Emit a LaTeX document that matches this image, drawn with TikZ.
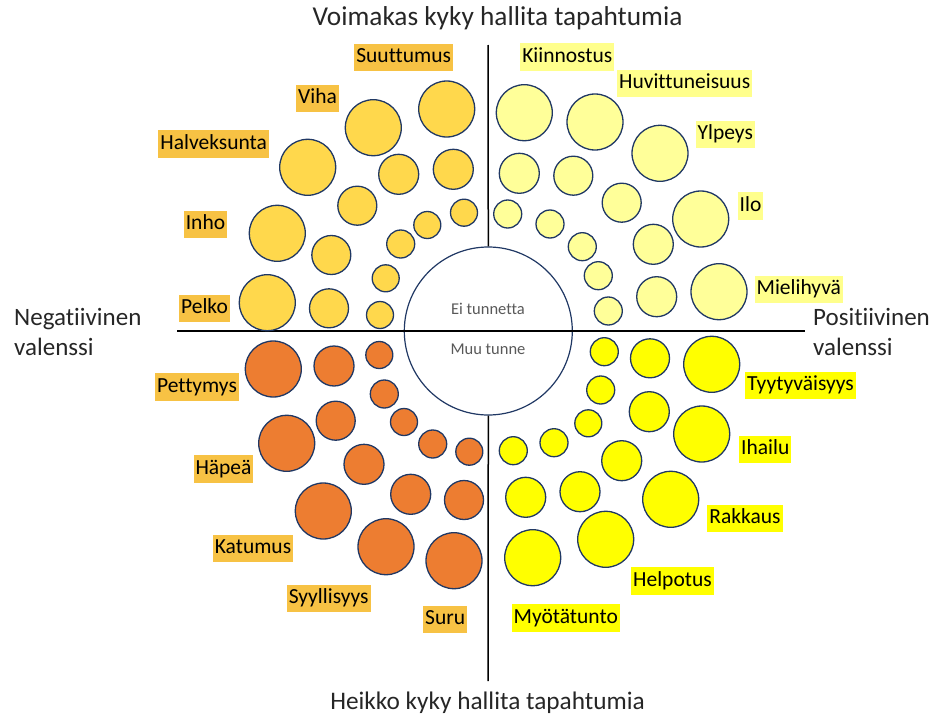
\documentclass[tikz,border=0pt]{standalone}
\usepackage{fontspec}
\setmainfont{Carlito}[Ligatures=NoCommon]
\usepackage{xcolor}

\definecolor{rim}{HTML}{203864}
\definecolor{tlfill}{HTML}{FFD84C}
\definecolor{trfill}{HTML}{FFFF99}
\definecolor{blfill}{HTML}{ED7D31}
\definecolor{brfill}{HTML}{FFFF00}
\definecolor{goldtag}{HTML}{F7C244}
\definecolor{paletag}{HTML}{FFFF8C}

\tikzset{
  emodot/.style={draw=rim,line width=1.3pt},
  emolabel/.style={inner xsep=2pt,inner ysep=3.5pt,text height=15.5pt,text depth=5pt,font=\fontsize{21.5}{25}\selectfont},
  axislabel/.style={font=\fontsize{25}{30}\selectfont,align=left,text=black!85},
}

\begin{document}
\begin{tikzpicture}[x=1pt,y=-1pt]
\useasboundingbox (0,0) rectangle (932,720);

% axes and the neutral hub
\coordinate (top) at (488,45);
\coordinate (bottom) at (488,681);
\coordinate (left) at (177,331);
\coordinate (right) at (805,331);
\node[circle,draw=rim,line width=1.2pt,fill=white,minimum size=168pt,inner sep=0pt] (hub) at (488.3,331) {};
\draw[line width=1.5pt] (top) -- (hub.north);
\draw[line width=1.5pt] (hub.south) -- (bottom);
\draw[line width=1.5pt] (left) -- (right);
\node[font=\fontsize{16.5}{20}\selectfont,text=black!65] (none) at (488,309) {Ei tunnetta};
\node[font=\fontsize{16.5}{20}\selectfont,text=black!65] (other) at (488,349) {Muu tunne};

% upper left
\foreach \x/\y/\r in {446.7/109/28,373.3/127.7/28,307.7/167.3/28,277.3/233.3/28,267.3/302.7/28,
  453.3/169.3/20,398.7/174.3/20,357.3/205.7/19.5,331.3/255/19.5,329/308.3/19.5,
  464/212.7/13.5,427.3/225/13.5,400.7/244/14,385.7/278.3/13.5,380/315/13.5}
  \draw[emodot,fill=tlfill] (\x,\y) circle (\r pt);
% upper right
\foreach \x/\y/\r in {524.3/112.7/28,595/122/28,660/153.3/28,700.7/219/28,719/291.7/28,
  519.3/173.3/20,573.3/175.7/19.5,621.7/202.7/19.5,653.3/244.3/20,656.7/296.7/20,
  507.7/214/14,550/224/14,582.3/246.7/14,598.3/275.7/14,608.3/311/14}
  \draw[emodot,fill=trfill] (\x,\y) circle (\r pt);
% lower left
\foreach \x/\y/\r in {273.3/369/28,286.7/443.3/28,323.3/511/28,386/546.7/28,454/560.7/28,
  334/366/20,335.7/420.7/19.5,364/464.3/20,410.7/494.3/20,464/500/19.5,
  379.3/355/13.5,384.3/394/14,404/422/13.5,432.7/444/14,469.3/451.7/13.5}
  \draw[emodot,fill=blfill] (\x,\y) circle (\r pt);
% lower right
\foreach \x/\y/\r in {711.7/364.3/28,701.7/434/28,670.7/499.3/28,605.7/539.3/28,532.7/557.7/28,
  650/358.3/19.5,649.3/411.7/20,621.7/460.7/20,580/491.7/20,525.7/497.3/20,
  604.3/351.7/14,600.7/390/14,588.3/423.3/13.5,554/442.7/14,513.3/450.7/14}
  \draw[emodot,fill=brfill] (\x,\y) circle (\r pt);

% emotion names
\node[emolabel,fill=goldtag] (suuttumus) at (403.7,57.5) {Suuttumus};
\node[emolabel,fill=goldtag] (viha) at (317.5,98.3) {Viha};
\node[emolabel,fill=goldtag] (halveksunta) at (213.7,144.2) {Halveksunta};
\node[emolabel,fill=goldtag] (inho) at (205.5,224.5) {Inho};
\node[emolabel,fill=goldtag] (pelko) at (204.5,308.5) {Pelko};
\node[emolabel,fill=paletag] (kiinnostus) at (567.3,57) {Kiinnostus};
\node[emolabel,fill=paletag] (huvittuneisuus) at (684.7,83.3) {Huvittuneisuus};
\node[emolabel,fill=paletag] (ylpeys) at (725.3,134.5) {Ylpeys};
\node[emolabel,fill=paletag] (ilo) at (750.5,205.8) {Ilo};
\node[emolabel,fill=paletag] (mielihyva) at (798.8,289.5) {Mielihyvä};
\node[emolabel,fill=goldtag] (pettymys) at (197,387.2) {Pettymys};
\node[emolabel,fill=goldtag] (hapea) at (223.5,468.8) {Häpeä};
\node[emolabel,fill=goldtag] (katumus) at (253,548.7) {Katumus};
\node[emolabel,fill=goldtag] (syyllisyys) at (328.7,598.3) {Syyllisyys};
\node[emolabel,fill=goldtag] (suru) at (445.2,619.5) {Suru};
\node[emolabel,fill=brfill] (tyytyvaisyys) at (800.5,385.5) {Tyytyväisyys};
\node[emolabel,fill=brfill] (ihailu) at (765.3,449.3) {Ihailu};
\node[emolabel,fill=brfill] (rakkaus) at (745,518.3) {Rakkaus};
\node[emolabel,fill=brfill] (helpotus) at (672.5,581.2) {Helpotus};
\node[emolabel,fill=brfill] (myotatunto) at (565.8,617.8) {Myötätunto};

% axis names
\node[axislabel,font=\fontsize{27.3}{30}\selectfont] (strong) at (497.5,18) {Voimakas kyky hallita tapahtumia};
\node[axislabel,font=\fontsize{25.3}{30}\selectfont] (weak) at (487.5,703) {Heikko kyky hallita tapahtumia};
\node[axislabel,anchor=west,inner sep=0pt] (negative) at (14,332) {Negatiivinen\\valenssi};
\node[axislabel,anchor=west,inner sep=0pt] (positive) at (813,332) {Positiivinen\\valenssi};
\end{tikzpicture}
\end{document}
